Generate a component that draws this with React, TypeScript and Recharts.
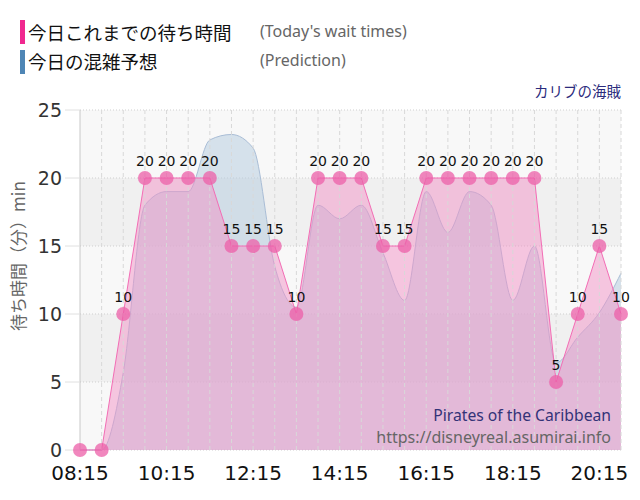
import { ComposedChart, Area, XAxis, YAxis, CartesianGrid, ReferenceLine, LabelList } from 'recharts';

const times = [
    '08:15', '08:45', '09:15', '09:45', '10:15', '10:45', '11:15', '11:45', '12:15', '12:45',
    '13:15', '13:45', '14:15', '14:45', '15:15', '15:45', '16:15', '16:45', '17:15', '17:45',
    '18:15', '18:45', '19:15', '19:45', '20:15', '20:45',
];
const waitTimes = [0, 0, 10, 20, 20, 20, 20, 15, 15, 15, 10, 20, 20, 20, 15, 15, 20, 20, 20, 20, 20, 20, 5, 10, 15, 10];
const prediction = [0, 0, 5.7, 18, 19, 19, 22.8, 23.2, 22.2, 13.5, 10.5, 18, 17, 18, 14.5, 11, 19, 16, 19, 18, 11, 15, 6.4, 8.3, 10.1, 13];
const xTickLabels = ['08:15', '10:15', '12:15', '14:15', '16:15', '18:15', '20:15'];
const yTicks = [0, 5, 10, 15, 20, 25];

const toMin = (t: string) => {
    const [h, m] = t.split(':').map(Number);
    return h * 60 + m;
};
const fmt = (v: number) => `${String(Math.floor(v / 60)).padStart(2, '0')}:${String(v % 60).padStart(2, '0')}`;

const data = times.map((t, i) => ({ t: toMin(t), wait: waitTimes[i], pred: prediction[i] }));

const NUM_FONT = '"DejaVu Sans", sans-serif';
const JP_FONT = '"Noto Sans CJK JP", sans-serif';
const EN_FONT = '"Noto Sans", sans-serif';

function PointLabel(props: any) {
    const { x, y, value } = props;
    if (!value) return null;
    return (
        <text x={x} y={y - 12} textAnchor="middle" fontSize={14} fontFamily={NUM_FONT} fill="#111">
            {value}
        </text>
    );
}

export default function App() {
    return (
        <div style={{ position: 'absolute', left: 0, top: 0, width: 640, height: 500, background: '#fff' }}>
            {/* legend */}
            <div style={{ position: 'absolute', left: 20, top: 20, width: 5, height: 24, background: '#f0288f' }} />
            <div style={{ position: 'absolute', left: 28, top: 19, fontFamily: JP_FONT, fontSize: 18.5, lineHeight: '26px', color: '#111' }}>今日これまでの待ち時間</div>
            <div style={{ position: 'absolute', left: 260, top: 20, fontFamily: EN_FONT, fontSize: 16, lineHeight: '22px', color: '#666' }}>(Today's wait times)</div>
            <div style={{ position: 'absolute', left: 20, top: 50, width: 5, height: 24, background: '#4f86b5' }} />
            <div style={{ position: 'absolute', left: 28, top: 48, fontFamily: JP_FONT, fontSize: 18.5, lineHeight: '26px', color: '#111' }}>今日の混雑予想</div>
            <div style={{ position: 'absolute', left: 260, top: 49, fontFamily: EN_FONT, fontSize: 16, lineHeight: '22px', color: '#666' }}>(Prediction)</div>
            <div style={{ position: 'absolute', right: 19, top: 81, fontFamily: JP_FONT, fontSize: 14.5, lineHeight: '20px', color: '#2b2b7d' }}>カリブの海賊</div>

            <ComposedChart width={640} height={500} data={data} margin={{ top: 110, right: 19, left: 0, bottom: 20 }}>
                <CartesianGrid vertical={false} stroke="#cfcfcf" strokeDasharray="1 2" horizontalFill={['#f8f8f8', '#f0f0f0']} />
                {times.slice(1).map((t) => (
                    <ReferenceLine key={t} x={toMin(t)} stroke="#d8d8d8" strokeDasharray="4 3" />
                ))}
                <XAxis
                    dataKey="t"
                    type="number"
                    domain={[toMin(times[0]), toMin(times[times.length - 1])]}
                    ticks={xTickLabels.map(toMin)}
                    tickFormatter={fmt}
                    axisLine={false}
                    tickLine={false}
                    tickMargin={10}
                    tick={{ fontSize: 20, fill: '#111', fontFamily: NUM_FONT }}
                    height={30}
                />
                <YAxis
                    type="number"
                    domain={[0, 25]}
                    ticks={yTicks}
                    width={80}
                    axisLine={{ stroke: '#c8c8c8' }}
                    tickLine={{ stroke: '#e0e0e0' }}
                    tickSize={15}
                    tickMargin={3}
                    tick={{ fontSize: 19, fill: '#333', fontFamily: NUM_FONT }}
                />
                <Area
                    dataKey="pred"
                    type="monotone"
                    stroke="#a9bdd6"
                    strokeWidth={1}
                    fill="#b8cde0"
                    fillOpacity={0.55}
                    dot={false}
                    activeDot={false}
                    isAnimationActive={false}
                />
                <Area
                    dataKey="wait"
                    type="linear"
                    stroke="#f36db5"
                    strokeWidth={1}
                    fill="#f291c6"
                    fillOpacity={0.5}
                    dot={{ r: 7, fill: '#ec5fa8', fillOpacity: 0.75, stroke: 'none' }}
                    activeDot={false}
                    isAnimationActive={false}
                >
                    <LabelList dataKey="wait" content={PointLabel} />
                </Area>
            </ComposedChart>

            <div style={{ position: 'absolute', left: 0, top: 256, width: 34, height: 0 }}>
                <div
                    style={{
                        position: 'absolute', left: 17, top: 0, transform: 'translate(-50%, -50%) rotate(-90deg)',
                        whiteSpace: 'nowrap', fontFamily: JP_FONT, fontSize: 17, color: '#666',
                    }}
                >
                    待ち時間（分）min
                </div>
            </div>
            <div style={{ position: 'absolute', right: 29, top: 404, fontFamily: EN_FONT, fontSize: 15.7, lineHeight: '22px', color: '#333377', textAlign: 'right' }}>Pirates of the Caribbean</div>
            <div style={{ position: 'absolute', right: 29, top: 426, fontFamily: EN_FONT, fontSize: 16, lineHeight: '22px', color: '#666', textAlign: 'right' }}>https://disneyreal.asumirai.info</div>
        </div>
    );
}
